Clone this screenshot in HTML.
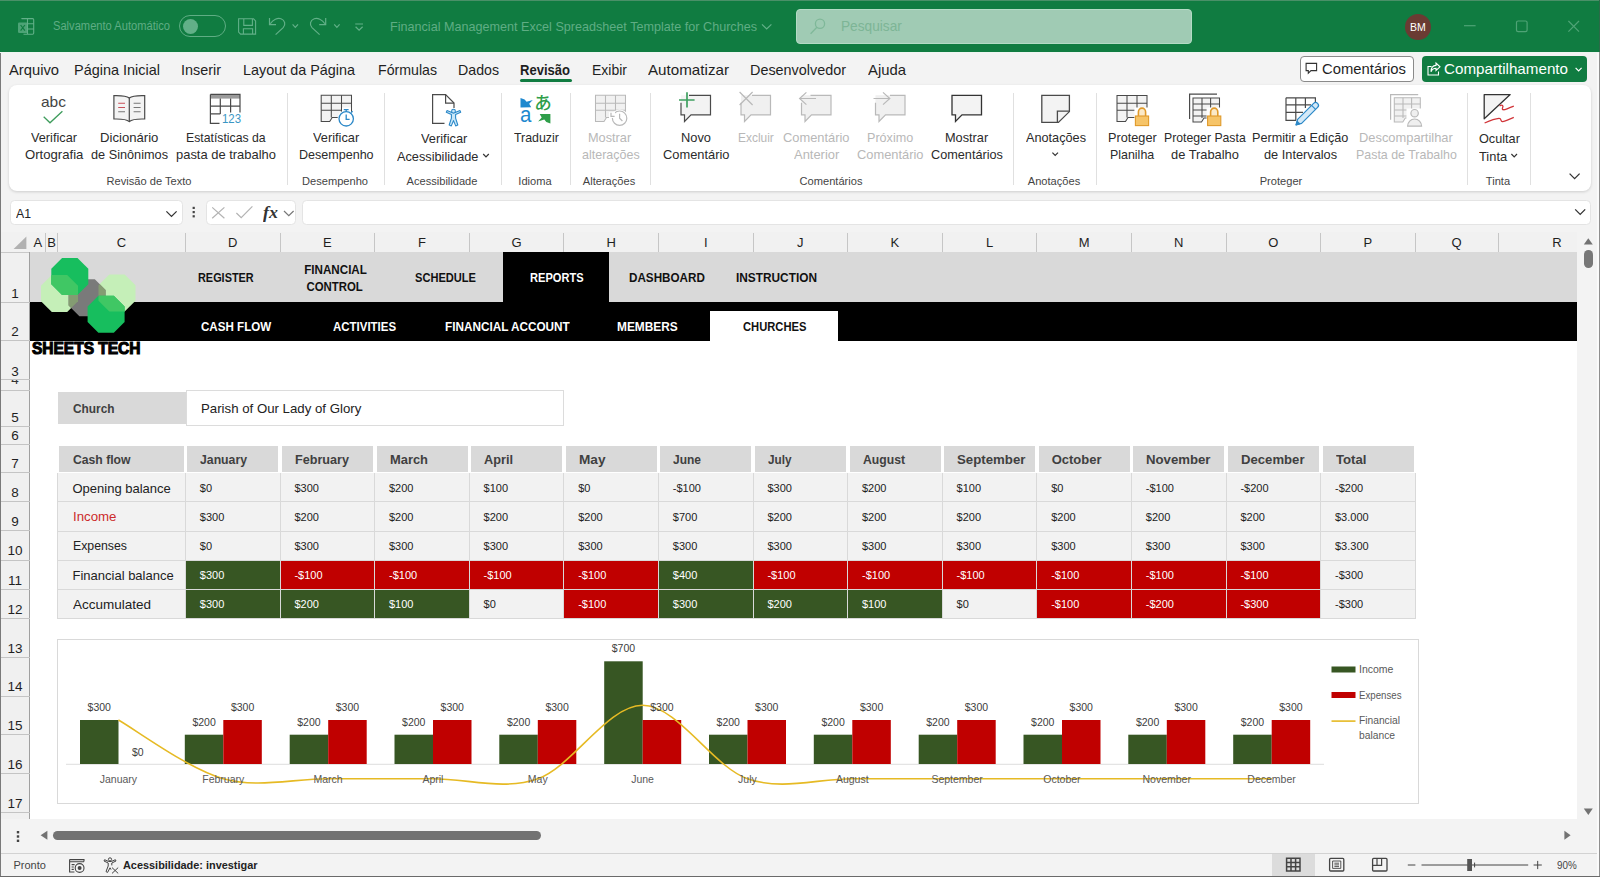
<!DOCTYPE html>
<html lang="pt-BR"><head><meta charset="utf-8"><title>Financial Management Excel Spreadsheet Template for Churches</title>
<style>
html,body{margin:0;padding:0;}
body{width:1600px;height:877px;overflow:hidden;position:relative;background:#f3f3f3;font-family:"Liberation Sans",sans-serif;}
.a{position:absolute;display:block;box-sizing:border-box;}
.t{position:absolute;white-space:nowrap;display:inline-block;}
svg{overflow:visible;}
</style></head><body>
<div class="a" style="left:0px;top:0px;width:1600px;height:51.8px;background:#107c41;"></div>
<div class="a" style="left:0px;top:0px;width:1600px;height:1px;background:#4a9068;"></div>
<span class="t" style="left:53.00px;top:19.24px;font-size:12px;line-height:15px;color:#5fad84;transform:scaleX(0.9280);transform-origin:left center;">Salvamento Automático</span>
<div class="a" style="left:178.7px;top:15.2px;width:47px;height:22px;border:1.2px solid #5fad84;border-radius:11px;"></div>
<div class="a" style="left:182.5px;top:18.7px;width:15px;height:15px;border-radius:7.5px;background:#62b088;"></div>
<span class="t" style="left:390.00px;top:18.50px;font-size:13px;line-height:16px;color:#5fad84;transform:scaleX(0.9698);transform-origin:left center;">Financial Management Excel Spreadsheet Template for Churches</span>
<div class="a" style="left:796px;top:9px;width:396px;height:35px;background:#a0cbb4;border:1.5px solid #b4dbc5;border-radius:4px;"></div>
<span class="t" style="left:841.20px;top:16.78px;font-size:14.5px;line-height:18px;color:#7db596;transform:scaleX(0.9429);transform-origin:left center;">Pesquisar</span>
<div class="a" style="left:1405px;top:14px;width:26px;height:26px;border-radius:13px;background:#6a3b33;"></div>
<span class="t" style="left:1410.12px;top:20.86px;font-size:10.5px;line-height:13px;color:#fff;">BM</span>
<div class="a" style="left:0px;top:52px;width:1600px;height:34px;background:#f3f3f3;"></div>
<span class="t" style="left:9.00px;top:59.80px;font-size:15px;line-height:19px;color:#1f1f1f;transform:scaleX(0.9831);transform-origin:left center;">Arquivo</span>
<span class="t" style="left:74.00px;top:59.80px;font-size:15px;line-height:19px;color:#1f1f1f;transform:scaleX(0.9638);transform-origin:left center;">Página Inicial</span>
<span class="t" style="left:181.00px;top:59.80px;font-size:15px;line-height:19px;color:#1f1f1f;transform:scaleX(0.9595);transform-origin:left center;">Inserir</span>
<span class="t" style="left:243.00px;top:59.80px;font-size:15px;line-height:19px;color:#1f1f1f;transform:scaleX(0.9592);transform-origin:left center;">Layout da Página</span>
<span class="t" style="left:378.00px;top:59.80px;font-size:15px;line-height:19px;color:#1f1f1f;transform:scaleX(0.9438);transform-origin:left center;">Fórmulas</span>
<span class="t" style="left:458.00px;top:59.80px;font-size:15px;line-height:19px;color:#1f1f1f;transform:scaleX(0.9456);transform-origin:left center;">Dados</span>
<span class="t" style="left:520.00px;top:59.80px;font-size:15px;line-height:19px;color:#1f1f1f;font-weight:700;transform:scaleX(0.8689);transform-origin:left center;">Revisão</span>
<span class="t" style="left:592.00px;top:59.80px;font-size:15px;line-height:19px;color:#1f1f1f;transform:scaleX(0.9329);transform-origin:left center;">Exibir</span>
<span class="t" style="left:648.00px;top:59.80px;font-size:15px;line-height:19px;color:#1f1f1f;transform:scaleX(1.0119);transform-origin:left center;">Automatizar</span>
<span class="t" style="left:750.00px;top:59.80px;font-size:15px;line-height:19px;color:#1f1f1f;transform:scaleX(0.9594);transform-origin:left center;">Desenvolvedor</span>
<span class="t" style="left:868.00px;top:59.80px;font-size:15px;line-height:19px;color:#1f1f1f;transform:scaleX(0.9902);transform-origin:left center;">Ajuda</span>
<div class="a" style="left:520px;top:79px;width:52px;height:3px;background:#107c41;border-radius:1.5px;"></div>
<div class="a" style="left:1300px;top:56px;width:114px;height:26px;background:#fff;border:1px solid #8a8a8a;border-radius:4px;"></div>
<span class="t" style="left:1322.00px;top:59.30px;font-size:15px;line-height:19px;color:#1f1f1f;transform:scaleX(0.9877);transform-origin:left center;">Comentários</span>
<div class="a" style="left:1422px;top:56px;width:165px;height:26px;background:#107c41;border-radius:4px;"></div>
<span class="t" style="left:1444.00px;top:59.30px;font-size:15px;line-height:19px;color:#fff;transform:scaleX(1.0117);transform-origin:left center;">Compartilhamento</span>
<div class="a" style="left:9px;top:85.2px;width:1582px;height:105.6px;background:#fff;border-radius:8px;box-shadow:0 1px 3px rgba(0,0,0,0.16);"></div>
<span class="t" style="left:31.00px;top:129.50px;font-size:13px;line-height:16px;color:#2b2b2b;transform:scaleX(0.9794);transform-origin:left center;">Verificar</span>
<span class="t" style="left:25.30px;top:146.70px;font-size:13px;line-height:16px;color:#2b2b2b;transform:scaleX(1.0102);transform-origin:left center;">Ortografia</span>
<span class="t" style="left:100.20px;top:129.50px;font-size:13px;line-height:16px;color:#2b2b2b;transform:scaleX(1.0102);transform-origin:left center;">Dicionário</span>
<span class="t" style="left:91.10px;top:146.70px;font-size:13px;line-height:16px;color:#2b2b2b;transform:scaleX(0.9774);transform-origin:left center;">de Sinônimos</span>
<span class="t" style="left:186.00px;top:129.50px;font-size:13px;line-height:16px;color:#2b2b2b;transform:scaleX(0.9415);transform-origin:left center;">Estatísticas da</span>
<span class="t" style="left:175.80px;top:146.70px;font-size:13px;line-height:16px;color:#2b2b2b;transform:scaleX(0.9943);transform-origin:left center;">pasta de trabalho</span>
<span class="t" style="left:312.90px;top:129.50px;font-size:13px;line-height:16px;color:#2b2b2b;transform:scaleX(0.9836);transform-origin:left center;">Verificar</span>
<span class="t" style="left:299.00px;top:146.70px;font-size:13px;line-height:16px;color:#2b2b2b;transform:scaleX(0.9647);transform-origin:left center;">Desempenho</span>
<span class="t" style="left:420.50px;top:131.30px;font-size:13px;line-height:16px;color:#2b2b2b;transform:scaleX(0.9858);transform-origin:left center;">Verificar</span>
<span class="t" style="left:397.20px;top:148.50px;font-size:13px;line-height:16px;color:#2b2b2b;transform:scaleX(0.9794);transform-origin:left center;">Acessibilidade</span>
<span class="t" style="left:514.20px;top:129.50px;font-size:13px;line-height:16px;color:#2b2b2b;transform:scaleX(0.9512);transform-origin:left center;">Traduzir</span>
<span class="t" style="left:588.40px;top:129.50px;font-size:13px;line-height:16px;color:#b8b8b8;transform:scaleX(0.9804);transform-origin:left center;">Mostrar</span>
<span class="t" style="left:582.00px;top:146.70px;font-size:13px;line-height:16px;color:#b8b8b8;transform:scaleX(0.9619);transform-origin:left center;">alterações</span>
<span class="t" style="left:680.90px;top:129.50px;font-size:13px;line-height:16px;color:#2b2b2b;transform:scaleX(0.9882);transform-origin:left center;">Novo</span>
<span class="t" style="left:662.70px;top:146.70px;font-size:13px;line-height:16px;color:#2b2b2b;transform:scaleX(0.9895);transform-origin:left center;">Comentário</span>
<span class="t" style="left:737.60px;top:129.50px;font-size:13px;line-height:16px;color:#b8b8b8;transform:scaleX(0.9176);transform-origin:left center;">Excluir</span>
<span class="t" style="left:782.80px;top:129.50px;font-size:13px;line-height:16px;color:#b8b8b8;transform:scaleX(0.9895);transform-origin:left center;">Comentário</span>
<span class="t" style="left:793.60px;top:146.70px;font-size:13px;line-height:16px;color:#b8b8b8;transform:scaleX(0.9949);transform-origin:left center;">Anterior</span>
<span class="t" style="left:866.90px;top:129.50px;font-size:13px;line-height:16px;color:#b8b8b8;transform:scaleX(0.9688);transform-origin:left center;">Próximo</span>
<span class="t" style="left:856.70px;top:146.70px;font-size:13px;line-height:16px;color:#b8b8b8;transform:scaleX(0.9895);transform-origin:left center;">Comentário</span>
<span class="t" style="left:944.80px;top:129.50px;font-size:13px;line-height:16px;color:#2b2b2b;transform:scaleX(0.9804);transform-origin:left center;">Mostrar</span>
<span class="t" style="left:931.00px;top:146.70px;font-size:13px;line-height:16px;color:#2b2b2b;transform:scaleX(0.9755);transform-origin:left center;">Comentários</span>
<span class="t" style="left:1025.50px;top:129.50px;font-size:13px;line-height:16px;color:#2b2b2b;transform:scaleX(0.9766);transform-origin:left center;">Anotações</span>
<span class="t" style="left:1108.00px;top:129.50px;font-size:13px;line-height:16px;color:#2b2b2b;transform:scaleX(0.9764);transform-origin:left center;">Proteger</span>
<span class="t" style="left:1109.90px;top:146.70px;font-size:13px;line-height:16px;color:#2b2b2b;transform:scaleX(0.9554);transform-origin:left center;">Planilha</span>
<span class="t" style="left:1163.90px;top:129.50px;font-size:13px;line-height:16px;color:#2b2b2b;transform:scaleX(0.9421);transform-origin:left center;">Proteger Pasta</span>
<span class="t" style="left:1170.60px;top:146.70px;font-size:13px;line-height:16px;color:#2b2b2b;transform:scaleX(0.9888);transform-origin:left center;">de Trabalho</span>
<span class="t" style="left:1252.40px;top:129.50px;font-size:13px;line-height:16px;color:#2b2b2b;transform:scaleX(0.9729);transform-origin:left center;">Permitir a Edição</span>
<span class="t" style="left:1263.60px;top:146.70px;font-size:13px;line-height:16px;color:#2b2b2b;transform:scaleX(0.9820);transform-origin:left center;">de Intervalos</span>
<span class="t" style="left:1358.80px;top:129.50px;font-size:13px;line-height:16px;color:#b8b8b8;transform:scaleX(0.9910);transform-origin:left center;">Descompartilhar</span>
<span class="t" style="left:1355.50px;top:146.70px;font-size:13px;line-height:16px;color:#b8b8b8;transform:scaleX(0.9552);transform-origin:left center;">Pasta de Trabalho</span>
<span class="t" style="left:1478.80px;top:131.30px;font-size:13px;line-height:16px;color:#2b2b2b;transform:scaleX(0.9760);transform-origin:left center;">Ocultar</span>
<span class="t" style="left:1478.80px;top:148.50px;font-size:13px;line-height:16px;color:#2b2b2b;transform:scaleX(0.9887);transform-origin:left center;">Tinta</span>
<div class="a" style="left:286.6px;top:93px;width:1px;height:92px;background:#e0e0e0;"></div>
<div class="a" style="left:384.4px;top:93px;width:1px;height:92px;background:#e0e0e0;"></div>
<div class="a" style="left:501px;top:93px;width:1px;height:92px;background:#e0e0e0;"></div>
<div class="a" style="left:569.6px;top:93px;width:1px;height:92px;background:#e0e0e0;"></div>
<div class="a" style="left:650.4px;top:93px;width:1px;height:92px;background:#e0e0e0;"></div>
<div class="a" style="left:1013.2px;top:93px;width:1px;height:92px;background:#e0e0e0;"></div>
<div class="a" style="left:1096.1px;top:93px;width:1px;height:92px;background:#e0e0e0;"></div>
<div class="a" style="left:1466.7px;top:93px;width:1px;height:92px;background:#e0e0e0;"></div>
<div class="a" style="left:1530.2px;top:93px;width:1px;height:92px;background:#e0e0e0;"></div>
<span class="t" style="left:106.55px;top:173.75px;font-size:11.1px;line-height:14px;color:#444;">Revisão de Texto</span>
<span class="t" style="left:302.00px;top:173.75px;font-size:11.1px;line-height:14px;color:#444;">Desempenho</span>
<span class="t" style="left:406.54px;top:173.75px;font-size:11.1px;line-height:14px;color:#444;">Acessibilidade</span>
<span class="t" style="left:518.34px;top:173.75px;font-size:11.1px;line-height:14px;color:#444;">Idioma</span>
<span class="t" style="left:582.79px;top:173.75px;font-size:11.1px;line-height:14px;color:#444;">Alterações</span>
<span class="t" style="left:799.55px;top:173.75px;font-size:11.1px;line-height:14px;color:#444;">Comentários</span>
<span class="t" style="left:1027.78px;top:173.75px;font-size:11.1px;line-height:14px;color:#444;">Anotações</span>
<span class="t" style="left:1259.72px;top:173.75px;font-size:11.1px;line-height:14px;color:#444;">Proteger</span>
<span class="t" style="left:1485.87px;top:173.75px;font-size:11.1px;line-height:14px;color:#444;">Tinta</span>
<div class="a" style="left:9.8px;top:199.8px;width:172.8px;height:24.8px;background:#fff;border:1px solid #e4e4e4;border-radius:4.5px;"></div>
<span class="t" style="left:16.00px;top:204.52px;font-size:13.5px;line-height:17px;color:#222;transform:scaleX(0.9082);transform-origin:left center;">A1</span>
<div class="a" style="left:206px;top:199.8px;width:90.4px;height:24.8px;background:#fff;border:1px solid #e4e4e4;border-radius:4.5px;"></div>
<div class="a" style="left:301.6px;top:199.8px;width:1289.6px;height:24.8px;background:#fff;border:1px solid #e4e4e4;border-radius:4.5px;"></div>
<span class="t" style="left:263.00px;top:200.94px;font-size:17.5px;line-height:22px;color:#333;transform:scaleX(1.0289);transform-origin:left center;font-family:'Liberation Serif',serif;font-style:italic;font-weight:700;">fx</span>
<svg class="a" style="left:0px;top:0px;" width="1600" height="877" viewBox="0 0 1600 877"><path d="M166.4,211.4 L171.5,216.4 L176.6,211.4" fill="none" stroke="#333" stroke-width="1.3"/><rect x="192.6" y="206.8" width="2.2" height="2.2" fill="#444"/><rect x="192.6" y="211" width="2.2" height="2.2" fill="#444"/><rect x="192.6" y="215.2" width="2.2" height="2.2" fill="#444"/><path d="M212.2,207.4 L224.4,218.2 M224.4,207.4 L212.2,218.2 M236.4,213 L241.2,217.6 L252.4,206.4" fill="none" stroke="#b3b3b3" stroke-width="1.2"/><path d="M284,211 L288.8,215.6 L293.6,211" fill="none" stroke="#777" stroke-width="1.2"/><path d="M1575.2,209.4 L1580.2,214.4 L1585.2,209.4" fill="none" stroke="#333" stroke-width="1.3"/></svg>
<div class="a" style="left:0px;top:232px;width:1577.3px;height:587px;background:#fff;"></div>
<div class="a" style="left:0px;top:232px;width:1577px;height:20px;background:#f1f1f1;"></div>
<div class="a" style="left:0px;top:252px;width:30px;height:567px;background:#f0f0f0;"></div>
<span class="t" style="left:33.46px;top:234.70px;font-size:13px;line-height:16px;color:#1f1f1f;">A</span>
<div class="a" style="left:45.1px;top:232.5px;width:1px;height:19.5px;background:#c6c6c6;"></div>
<span class="t" style="left:47.26px;top:234.70px;font-size:13px;line-height:16px;color:#1f1f1f;">B</span>
<div class="a" style="left:57.1px;top:232.5px;width:1px;height:19.5px;background:#c6c6c6;"></div>
<span class="t" style="left:116.80px;top:234.70px;font-size:13px;line-height:16px;color:#1f1f1f;">C</span>
<div class="a" style="left:184.9px;top:232.5px;width:1px;height:19.5px;background:#c6c6c6;"></div>
<span class="t" style="left:228.00px;top:234.70px;font-size:13px;line-height:16px;color:#1f1f1f;">D</span>
<div class="a" style="left:279.5px;top:232.5px;width:1px;height:19.5px;background:#c6c6c6;"></div>
<span class="t" style="left:322.96px;top:234.70px;font-size:13px;line-height:16px;color:#1f1f1f;">E</span>
<div class="a" style="left:374.1px;top:232.5px;width:1px;height:19.5px;background:#c6c6c6;"></div>
<span class="t" style="left:417.92px;top:234.70px;font-size:13px;line-height:16px;color:#1f1f1f;">F</span>
<div class="a" style="left:468.7px;top:232.5px;width:1px;height:19.5px;background:#c6c6c6;"></div>
<span class="t" style="left:511.44px;top:234.70px;font-size:13px;line-height:16px;color:#1f1f1f;">G</span>
<div class="a" style="left:563.3px;top:232.5px;width:1px;height:19.5px;background:#c6c6c6;"></div>
<span class="t" style="left:606.40px;top:234.70px;font-size:13px;line-height:16px;color:#1f1f1f;">H</span>
<div class="a" style="left:657.9px;top:232.5px;width:1px;height:19.5px;background:#c6c6c6;"></div>
<span class="t" style="left:703.89px;top:234.70px;font-size:13px;line-height:16px;color:#1f1f1f;">I</span>
<div class="a" style="left:752.5px;top:232.5px;width:1px;height:19.5px;background:#c6c6c6;"></div>
<span class="t" style="left:797.05px;top:234.70px;font-size:13px;line-height:16px;color:#1f1f1f;">J</span>
<div class="a" style="left:847.1px;top:232.5px;width:1px;height:19.5px;background:#c6c6c6;"></div>
<span class="t" style="left:890.56px;top:234.70px;font-size:13px;line-height:16px;color:#1f1f1f;">K</span>
<div class="a" style="left:941.7px;top:232.5px;width:1px;height:19.5px;background:#c6c6c6;"></div>
<span class="t" style="left:985.88px;top:234.70px;font-size:13px;line-height:16px;color:#1f1f1f;">L</span>
<div class="a" style="left:1036.3px;top:232.5px;width:1px;height:19.5px;background:#c6c6c6;"></div>
<span class="t" style="left:1078.68px;top:234.70px;font-size:13px;line-height:16px;color:#1f1f1f;">M</span>
<div class="a" style="left:1130.9px;top:232.5px;width:1px;height:19.5px;background:#c6c6c6;"></div>
<span class="t" style="left:1174.00px;top:234.70px;font-size:13px;line-height:16px;color:#1f1f1f;">N</span>
<div class="a" style="left:1225.5px;top:232.5px;width:1px;height:19.5px;background:#c6c6c6;"></div>
<span class="t" style="left:1268.24px;top:234.70px;font-size:13px;line-height:16px;color:#1f1f1f;">O</span>
<div class="a" style="left:1320.1px;top:232.5px;width:1px;height:19.5px;background:#c6c6c6;"></div>
<span class="t" style="left:1363.56px;top:234.70px;font-size:13px;line-height:16px;color:#1f1f1f;">P</span>
<div class="a" style="left:1414.7px;top:232.5px;width:1px;height:19.5px;background:#c6c6c6;"></div>
<span class="t" style="left:1451.54px;top:234.70px;font-size:13px;line-height:16px;color:#1f1f1f;">Q</span>
<div class="a" style="left:1497.5px;top:232.5px;width:1px;height:19.5px;background:#c6c6c6;"></div>
<span class="t" style="left:1552.30px;top:234.70px;font-size:13px;line-height:16px;color:#1f1f1f;">R</span>
<div class="a" style="left:0px;top:251.5px;width:29px;height:1px;background:#c8c8c8;"></div>
<div class="a" style="left:29px;top:251.5px;width:1548px;height:1px;background:#9e9e9e;"></div>
<svg class="a" style="left:0px;top:0px;" width="40" height="260" viewBox="0 0 40 260"><polygon points="13.6,249 26.4,249 26.4,236.4" fill="#b1b1b1"/></svg>
<div class="a" style="left:29px;top:252px;width:1px;height:567px;background:#a0a0a0;"></div>
<div class="a" style="left:0px;top:301.79999999999995px;width:30px;height:1px;background:#c4c4c4;"></div>
<span class="t" style="left:11.24px;top:284.62px;font-size:13.5px;line-height:17px;color:#1f1f1f;">1</span>
<div class="a" style="left:0px;top:340.4px;width:30px;height:1px;background:#c4c4c4;"></div>
<span class="t" style="left:11.24px;top:323.22px;font-size:13.5px;line-height:17px;color:#1f1f1f;">2</span>
<div class="a" style="left:0px;top:379.4px;width:30px;height:1px;background:#c4c4c4;"></div>
<span class="t" style="left:11.24px;top:363.22px;font-size:13.5px;line-height:17px;color:#1f1f1f;">3</span>
<div class="a" style="left:0px;top:389.7px;width:30px;height:1px;background:#c4c4c4;"></div>
<div class="a" style="left:0;top:380.4px;width:29px;height:9.4px;overflow:hidden;"><span class="t" style="left:11.2px;top:-9.3px;font-size:13.5px;line-height:17px;color:#333;">4</span></div>
<div class="a" style="left:0px;top:425.7px;width:30px;height:1px;background:#c4c4c4;"></div>
<span class="t" style="left:11.24px;top:408.52px;font-size:13.5px;line-height:17px;color:#1f1f1f;">5</span>
<div class="a" style="left:0px;top:444.0px;width:30px;height:1px;background:#c4c4c4;"></div>
<span class="t" style="left:11.24px;top:426.82px;font-size:13.5px;line-height:17px;color:#1f1f1f;">6</span>
<div class="a" style="left:0px;top:472.0px;width:30px;height:1px;background:#c4c4c4;"></div>
<span class="t" style="left:11.24px;top:454.82px;font-size:13.5px;line-height:17px;color:#1f1f1f;">7</span>
<div class="a" style="left:0px;top:501.2px;width:30px;height:1px;background:#c4c4c4;"></div>
<span class="t" style="left:11.24px;top:484.02px;font-size:13.5px;line-height:17px;color:#1f1f1f;">8</span>
<div class="a" style="left:0px;top:530.4px;width:30px;height:1px;background:#c4c4c4;"></div>
<span class="t" style="left:11.24px;top:513.22px;font-size:13.5px;line-height:17px;color:#1f1f1f;">9</span>
<div class="a" style="left:0px;top:559.6px;width:30px;height:1px;background:#c4c4c4;"></div>
<span class="t" style="left:7.48px;top:542.42px;font-size:13.5px;line-height:17px;color:#1f1f1f;">10</span>
<div class="a" style="left:0px;top:588.8px;width:30px;height:1px;background:#c4c4c4;"></div>
<span class="t" style="left:7.99px;top:571.62px;font-size:13.5px;line-height:17px;color:#1f1f1f;">11</span>
<div class="a" style="left:0px;top:618.0px;width:30px;height:1px;background:#c4c4c4;"></div>
<span class="t" style="left:7.48px;top:600.82px;font-size:13.5px;line-height:17px;color:#1f1f1f;">12</span>
<div class="a" style="left:0px;top:656.8px;width:30px;height:1px;background:#c4c4c4;"></div>
<span class="t" style="left:7.48px;top:639.62px;font-size:13.5px;line-height:17px;color:#1f1f1f;">13</span>
<div class="a" style="left:0px;top:695.5px;width:30px;height:1px;background:#c4c4c4;"></div>
<span class="t" style="left:7.48px;top:678.32px;font-size:13.5px;line-height:17px;color:#1f1f1f;">14</span>
<div class="a" style="left:0px;top:734.3px;width:30px;height:1px;background:#c4c4c4;"></div>
<span class="t" style="left:7.48px;top:717.12px;font-size:13.5px;line-height:17px;color:#1f1f1f;">15</span>
<div class="a" style="left:0px;top:773.0px;width:30px;height:1px;background:#c4c4c4;"></div>
<span class="t" style="left:7.48px;top:755.82px;font-size:13.5px;line-height:17px;color:#1f1f1f;">16</span>
<div class="a" style="left:0px;top:811.8px;width:30px;height:1px;background:#c4c4c4;"></div>
<span class="t" style="left:7.48px;top:794.62px;font-size:13.5px;line-height:17px;color:#1f1f1f;">17</span>
<div class="a" style="left:30px;top:252.4px;width:1547.3px;height:49.8px;background:#d9d9d9;"></div>
<div class="a" style="left:503.3px;top:252.4px;width:105.8px;height:49.8px;background:#000;"></div>
<div class="a" style="left:30px;top:302.1px;width:1547.3px;height:39.2px;background:#000;"></div>
<div class="a" style="left:710.3px;top:310.8px;width:127.7px;height:30.5px;background:#fff;"></div>
<span class="t" style="left:197.80px;top:270.33px;font-size:13.2px;line-height:16px;color:#111;font-weight:700;transform:scaleX(0.8261);transform-origin:left center;">REGISTER</span>
<span class="t" style="left:299.67px;top:261.63px;font-size:13.2px;line-height:16px;color:#111;font-weight:700;transform:scaleX(0.8823);transform-origin:center center;">FINANCIAL</span>
<span class="t" style="left:302.40px;top:278.63px;font-size:13.2px;line-height:16px;color:#111;font-weight:700;transform:scaleX(0.8635);transform-origin:center center;">CONTROL</span>
<span class="t" style="left:414.80px;top:270.33px;font-size:13.2px;line-height:16px;color:#111;font-weight:700;transform:scaleX(0.8408);transform-origin:left center;">SCHEDULE</span>
<span class="t" style="left:529.70px;top:270.33px;font-size:13.2px;line-height:16px;color:#fff;font-weight:700;transform:scaleX(0.8408);transform-origin:left center;">REPORTS</span>
<span class="t" style="left:628.90px;top:270.33px;font-size:13.2px;line-height:16px;color:#111;font-weight:700;transform:scaleX(0.8855);transform-origin:left center;">DASHBOARD</span>
<span class="t" style="left:736.30px;top:270.33px;font-size:13.2px;line-height:16px;color:#111;font-weight:700;transform:scaleX(0.8988);transform-origin:left center;">INSTRUCTION</span>
<span class="t" style="left:200.80px;top:319.23px;font-size:13.2px;line-height:16px;color:#fff;font-weight:700;transform:scaleX(0.8790);transform-origin:left center;">CASH FLOW</span>
<span class="t" style="left:332.60px;top:319.23px;font-size:13.2px;line-height:16px;color:#fff;font-weight:700;transform:scaleX(0.8698);transform-origin:left center;">ACTIVITIES</span>
<span class="t" style="left:444.50px;top:319.23px;font-size:13.2px;line-height:16px;color:#fff;font-weight:700;transform:scaleX(0.8918);transform-origin:left center;">FINANCIAL ACCOUNT</span>
<span class="t" style="left:617.00px;top:319.23px;font-size:13.2px;line-height:16px;color:#fff;font-weight:700;transform:scaleX(0.9020);transform-origin:left center;">MEMBERS</span>
<span class="t" style="left:742.60px;top:319.23px;font-size:13.2px;line-height:16px;color:#111;font-weight:700;transform:scaleX(0.8483);transform-origin:left center;">CHURCHES</span>
<span class="t" style="left:31.50px;top:339.26px;font-size:16px;line-height:20px;color:#000;font-weight:700;transform:scaleX(0.9686);transform-origin:left center;-webkit-text-stroke:1.1px #000;">SHEETS TECH</span>
<svg class="a" style="left:0px;top:0px;" width="200" height="400" viewBox="0 0 200 400"><defs><clipPath id="cT"><polygon points="88.3,284.2 77.5,295.0 62.1,295.0 51.3,284.2 51.3,268.8 62.1,258.0 77.5,258.0 88.3,268.8"/></clipPath><clipPath id="cB"><polygon points="124.6,322.0 113.8,332.8 98.4,332.8 87.6,322.0 87.6,306.6 98.4,295.8 113.8,295.8 124.6,306.6"/></clipPath><clipPath id="cG"><polygon points="105.6,305.5 94.8,316.3 79.4,316.3 68.6,305.5 68.6,290.1 79.4,279.3 94.8,279.3 105.6,290.1"/></clipPath></defs><polygon points="78.0,301.2 67.2,312.0 51.8,312.0 41.0,301.2 41.0,285.8 51.8,275.0 67.2,275.0 78.0,285.8" fill="#c5efb8"/><polygon points="135.5,300.7 124.7,311.5 109.3,311.5 98.5,300.7 98.5,285.3 109.3,274.5 124.7,274.5 135.5,285.3" fill="#c5efb8"/><polygon points="105.6,305.5 94.8,316.3 79.4,316.3 68.6,305.5 68.6,290.1 79.4,279.3 94.8,279.3 105.6,290.1" fill="#7a7a7a"/><polygon points="78.0,301.2 67.2,312.0 51.8,312.0 41.0,301.2 41.0,285.8 51.8,275.0 67.2,275.0 78.0,285.8" fill="#849c72" clip-path="url(#cG)"/><polygon points="135.5,300.7 124.7,311.5 109.3,311.5 98.5,300.7 98.5,285.3 109.3,274.5 124.7,274.5 135.5,285.3" fill="#849c72" clip-path="url(#cG)"/><polygon points="88.3,284.2 77.5,295.0 62.1,295.0 51.3,284.2 51.3,268.8 62.1,258.0 77.5,258.0 88.3,268.8" fill="#17be5e"/><polygon points="124.6,322.0 113.8,332.8 98.4,332.8 87.6,322.0 87.6,306.6 98.4,295.8 113.8,295.8 124.6,306.6" fill="#17be5e"/><polygon points="78.0,301.2 67.2,312.0 51.8,312.0 41.0,301.2 41.0,285.8 51.8,275.0 67.2,275.0 78.0,285.8" fill="#40c764" clip-path="url(#cT)"/><polygon points="135.5,300.7 124.7,311.5 109.3,311.5 98.5,300.7 98.5,285.3 109.3,274.5 124.7,274.5 135.5,285.3" fill="#40c764" clip-path="url(#cB)"/></svg>
<div class="a" style="left:58px;top:392.2px;width:127.5px;height:32px;background:#d9d9d9;"></div>
<div class="a" style="left:185.5px;top:390.4px;width:378.6px;height:35.6px;background:#fff;border:1px solid #dcdcdc;"></div>
<span class="t" style="left:72.50px;top:401.00px;font-size:13px;line-height:16px;color:#404040;font-weight:700;transform:scaleX(0.9121);transform-origin:left center;">Church</span>
<span class="t" style="left:201.00px;top:401.00px;font-size:13px;line-height:16px;color:#222;transform:scaleX(1.0177);transform-origin:left center;">Parish of Our Lady of Glory</span>
<div class="a" style="left:58.7px;top:446.1px;width:125.10000000000001px;height:26.4px;background:#d9d9d9;"></div>
<span class="t" style="left:72.50px;top:451.70px;font-size:13px;line-height:16px;color:#404040;font-weight:700;transform:scaleX(0.9364);transform-origin:left center;">Cash flow</span>
<div class="a" style="left:187.4px;top:446.1px;width:91.1px;height:26.4px;background:#d9d9d9;"></div>
<span class="t" style="left:200.30px;top:451.70px;font-size:13px;line-height:16px;color:#404040;font-weight:700;transform:scaleX(0.9424);transform-origin:left center;">January</span>
<div class="a" style="left:282px;top:446.1px;width:91.10000000000002px;height:26.4px;background:#d9d9d9;"></div>
<span class="t" style="left:294.90px;top:451.70px;font-size:13px;line-height:16px;color:#404040;font-weight:700;transform:scaleX(0.9705);transform-origin:left center;">February</span>
<div class="a" style="left:376.6px;top:446.1px;width:91.09999999999997px;height:26.4px;background:#d9d9d9;"></div>
<span class="t" style="left:389.50px;top:451.70px;font-size:13px;line-height:16px;color:#404040;font-weight:700;transform:scaleX(0.9922);transform-origin:left center;">March</span>
<div class="a" style="left:471.2px;top:446.1px;width:91.09999999999997px;height:26.4px;background:#d9d9d9;"></div>
<span class="t" style="left:484.10px;top:451.70px;font-size:13px;line-height:16px;color:#404040;font-weight:700;transform:scaleX(0.9789);transform-origin:left center;">April</span>
<div class="a" style="left:565.8px;top:446.1px;width:91.10000000000002px;height:26.4px;background:#d9d9d9;"></div>
<span class="t" style="left:578.70px;top:451.70px;font-size:13px;line-height:16px;color:#404040;font-weight:700;transform:scaleX(1.0476);transform-origin:left center;">May</span>
<div class="a" style="left:660.4px;top:446.1px;width:91.10000000000002px;height:26.4px;background:#d9d9d9;"></div>
<span class="t" style="left:673.30px;top:451.70px;font-size:13px;line-height:16px;color:#404040;font-weight:700;transform:scaleX(0.9228);transform-origin:left center;">June</span>
<div class="a" style="left:755px;top:446.1px;width:91.10000000000002px;height:26.4px;background:#d9d9d9;"></div>
<span class="t" style="left:767.90px;top:451.70px;font-size:13px;line-height:16px;color:#404040;font-weight:700;transform:scaleX(0.9033);transform-origin:left center;">July</span>
<div class="a" style="left:849.6px;top:446.1px;width:91.10000000000002px;height:26.4px;background:#d9d9d9;"></div>
<span class="t" style="left:862.50px;top:451.70px;font-size:13px;line-height:16px;color:#404040;font-weight:700;transform:scaleX(0.9379);transform-origin:left center;">August</span>
<div class="a" style="left:944.2px;top:446.1px;width:91.09999999999991px;height:26.4px;background:#d9d9d9;"></div>
<span class="t" style="left:957.10px;top:451.70px;font-size:13px;line-height:16px;color:#404040;font-weight:700;transform:scaleX(1.0193);transform-origin:left center;">September</span>
<div class="a" style="left:1038.8px;top:446.1px;width:91.10000000000014px;height:26.4px;background:#d9d9d9;"></div>
<span class="t" style="left:1051.70px;top:451.70px;font-size:13px;line-height:16px;color:#404040;font-weight:700;">October</span>
<div class="a" style="left:1133.4px;top:446.1px;width:91.09999999999991px;height:26.4px;background:#d9d9d9;"></div>
<span class="t" style="left:1146.30px;top:451.70px;font-size:13px;line-height:16px;color:#404040;font-weight:700;transform:scaleX(1.0145);transform-origin:left center;">November</span>
<div class="a" style="left:1228px;top:446.1px;width:91.09999999999991px;height:26.4px;background:#d9d9d9;"></div>
<span class="t" style="left:1240.90px;top:451.70px;font-size:13px;line-height:16px;color:#404040;font-weight:700;transform:scaleX(1.0099);transform-origin:left center;">December</span>
<div class="a" style="left:1322.6px;top:446.1px;width:91.10000000000014px;height:26.4px;background:#d9d9d9;"></div>
<span class="t" style="left:1335.50px;top:451.70px;font-size:13px;line-height:16px;color:#404040;font-weight:700;transform:scaleX(1.0135);transform-origin:left center;">Total</span>
<div class="a" style="left:57.6px;top:473.2px;width:1358px;height:145.4px;background:#f2f2f2;"></div>
<span class="t" style="left:72.50px;top:480.50px;font-size:13px;line-height:16px;color:#222;">Opening balance</span>
<span class="t" style="left:199.80px;top:481.09px;font-size:11px;line-height:14px;color:#222;">$0</span>
<span class="t" style="left:294.40px;top:481.09px;font-size:11px;line-height:14px;color:#222;">$300</span>
<span class="t" style="left:389.00px;top:481.09px;font-size:11px;line-height:14px;color:#222;">$200</span>
<span class="t" style="left:483.60px;top:481.09px;font-size:11px;line-height:14px;color:#222;">$100</span>
<span class="t" style="left:578.20px;top:481.09px;font-size:11px;line-height:14px;color:#222;">$0</span>
<span class="t" style="left:672.80px;top:481.09px;font-size:11px;line-height:14px;color:#222;">-$100</span>
<span class="t" style="left:767.40px;top:481.09px;font-size:11px;line-height:14px;color:#222;">$300</span>
<span class="t" style="left:862.00px;top:481.09px;font-size:11px;line-height:14px;color:#222;">$200</span>
<span class="t" style="left:956.60px;top:481.09px;font-size:11px;line-height:14px;color:#222;">$100</span>
<span class="t" style="left:1051.20px;top:481.09px;font-size:11px;line-height:14px;color:#222;">$0</span>
<span class="t" style="left:1145.80px;top:481.09px;font-size:11px;line-height:14px;color:#222;">-$100</span>
<span class="t" style="left:1240.40px;top:481.09px;font-size:11px;line-height:14px;color:#222;">-$200</span>
<span class="t" style="left:1335.00px;top:481.09px;font-size:11px;line-height:14px;color:#222;">-$200</span>
<span class="t" style="left:72.50px;top:509.10px;font-size:13px;line-height:16px;color:#cc2b2b;transform:scaleX(1.0202);transform-origin:left center;">Income</span>
<span class="t" style="left:199.80px;top:509.69px;font-size:11px;line-height:14px;color:#222;">$300</span>
<span class="t" style="left:294.40px;top:509.69px;font-size:11px;line-height:14px;color:#222;">$200</span>
<span class="t" style="left:389.00px;top:509.69px;font-size:11px;line-height:14px;color:#222;">$200</span>
<span class="t" style="left:483.60px;top:509.69px;font-size:11px;line-height:14px;color:#222;">$200</span>
<span class="t" style="left:578.20px;top:509.69px;font-size:11px;line-height:14px;color:#222;">$200</span>
<span class="t" style="left:672.80px;top:509.69px;font-size:11px;line-height:14px;color:#222;">$700</span>
<span class="t" style="left:767.40px;top:509.69px;font-size:11px;line-height:14px;color:#222;">$200</span>
<span class="t" style="left:862.00px;top:509.69px;font-size:11px;line-height:14px;color:#222;">$200</span>
<span class="t" style="left:956.60px;top:509.69px;font-size:11px;line-height:14px;color:#222;">$200</span>
<span class="t" style="left:1051.20px;top:509.69px;font-size:11px;line-height:14px;color:#222;">$200</span>
<span class="t" style="left:1145.80px;top:509.69px;font-size:11px;line-height:14px;color:#222;">$200</span>
<span class="t" style="left:1240.40px;top:509.69px;font-size:11px;line-height:14px;color:#222;">$200</span>
<span class="t" style="left:1335.00px;top:509.69px;font-size:11px;line-height:14px;color:#222;">$3.000</span>
<span class="t" style="left:72.50px;top:538.30px;font-size:13px;line-height:16px;color:#222;transform:scaleX(0.9458);transform-origin:left center;">Expenses</span>
<span class="t" style="left:199.80px;top:538.89px;font-size:11px;line-height:14px;color:#222;">$0</span>
<span class="t" style="left:294.40px;top:538.89px;font-size:11px;line-height:14px;color:#222;">$300</span>
<span class="t" style="left:389.00px;top:538.89px;font-size:11px;line-height:14px;color:#222;">$300</span>
<span class="t" style="left:483.60px;top:538.89px;font-size:11px;line-height:14px;color:#222;">$300</span>
<span class="t" style="left:578.20px;top:538.89px;font-size:11px;line-height:14px;color:#222;">$300</span>
<span class="t" style="left:672.80px;top:538.89px;font-size:11px;line-height:14px;color:#222;">$300</span>
<span class="t" style="left:767.40px;top:538.89px;font-size:11px;line-height:14px;color:#222;">$300</span>
<span class="t" style="left:862.00px;top:538.89px;font-size:11px;line-height:14px;color:#222;">$300</span>
<span class="t" style="left:956.60px;top:538.89px;font-size:11px;line-height:14px;color:#222;">$300</span>
<span class="t" style="left:1051.20px;top:538.89px;font-size:11px;line-height:14px;color:#222;">$300</span>
<span class="t" style="left:1145.80px;top:538.89px;font-size:11px;line-height:14px;color:#222;">$300</span>
<span class="t" style="left:1240.40px;top:538.89px;font-size:11px;line-height:14px;color:#222;">$300</span>
<span class="t" style="left:1335.00px;top:538.89px;font-size:11px;line-height:14px;color:#222;">$3.300</span>
<span class="t" style="left:72.50px;top:567.50px;font-size:13px;line-height:16px;color:#222;">Financial balance</span>
<div class="a" style="left:185.4px;top:560.2px;width:94.6px;height:29.199999999999932px;background:#375623;"></div>
<span class="t" style="left:199.80px;top:568.09px;font-size:11px;line-height:14px;color:#fff;">$300</span>
<div class="a" style="left:280px;top:560.2px;width:94.60000000000002px;height:29.199999999999932px;background:#c00000;"></div>
<span class="t" style="left:294.40px;top:568.09px;font-size:11px;line-height:14px;color:#fff;">-$100</span>
<div class="a" style="left:374.6px;top:560.2px;width:94.59999999999997px;height:29.199999999999932px;background:#c00000;"></div>
<span class="t" style="left:389.00px;top:568.09px;font-size:11px;line-height:14px;color:#fff;">-$100</span>
<div class="a" style="left:469.2px;top:560.2px;width:94.59999999999997px;height:29.199999999999932px;background:#c00000;"></div>
<span class="t" style="left:483.60px;top:568.09px;font-size:11px;line-height:14px;color:#fff;">-$100</span>
<div class="a" style="left:563.8px;top:560.2px;width:94.60000000000002px;height:29.199999999999932px;background:#c00000;"></div>
<span class="t" style="left:578.20px;top:568.09px;font-size:11px;line-height:14px;color:#fff;">-$100</span>
<div class="a" style="left:658.4px;top:560.2px;width:94.60000000000002px;height:29.199999999999932px;background:#375623;"></div>
<span class="t" style="left:672.80px;top:568.09px;font-size:11px;line-height:14px;color:#fff;">$400</span>
<div class="a" style="left:753px;top:560.2px;width:94.60000000000002px;height:29.199999999999932px;background:#c00000;"></div>
<span class="t" style="left:767.40px;top:568.09px;font-size:11px;line-height:14px;color:#fff;">-$100</span>
<div class="a" style="left:847.6px;top:560.2px;width:94.60000000000002px;height:29.199999999999932px;background:#c00000;"></div>
<span class="t" style="left:862.00px;top:568.09px;font-size:11px;line-height:14px;color:#fff;">-$100</span>
<div class="a" style="left:942.2px;top:560.2px;width:94.59999999999991px;height:29.199999999999932px;background:#c00000;"></div>
<span class="t" style="left:956.60px;top:568.09px;font-size:11px;line-height:14px;color:#fff;">-$100</span>
<div class="a" style="left:1036.8px;top:560.2px;width:94.60000000000014px;height:29.199999999999932px;background:#c00000;"></div>
<span class="t" style="left:1051.20px;top:568.09px;font-size:11px;line-height:14px;color:#fff;">-$100</span>
<div class="a" style="left:1131.4px;top:560.2px;width:94.59999999999991px;height:29.199999999999932px;background:#c00000;"></div>
<span class="t" style="left:1145.80px;top:568.09px;font-size:11px;line-height:14px;color:#fff;">-$100</span>
<div class="a" style="left:1226px;top:560.2px;width:94.59999999999991px;height:29.199999999999932px;background:#c00000;"></div>
<span class="t" style="left:1240.40px;top:568.09px;font-size:11px;line-height:14px;color:#fff;">-$100</span>
<span class="t" style="left:1335.00px;top:568.09px;font-size:11px;line-height:14px;color:#222;">-$300</span>
<span class="t" style="left:72.50px;top:596.70px;font-size:13px;line-height:16px;color:#222;transform:scaleX(1.0378);transform-origin:left center;">Accumulated</span>
<div class="a" style="left:185.4px;top:589.4px;width:94.6px;height:29.200000000000045px;background:#375623;"></div>
<span class="t" style="left:199.80px;top:597.29px;font-size:11px;line-height:14px;color:#fff;">$300</span>
<div class="a" style="left:280px;top:589.4px;width:94.60000000000002px;height:29.200000000000045px;background:#375623;"></div>
<span class="t" style="left:294.40px;top:597.29px;font-size:11px;line-height:14px;color:#fff;">$200</span>
<div class="a" style="left:374.6px;top:589.4px;width:94.59999999999997px;height:29.200000000000045px;background:#375623;"></div>
<span class="t" style="left:389.00px;top:597.29px;font-size:11px;line-height:14px;color:#fff;">$100</span>
<span class="t" style="left:483.60px;top:597.29px;font-size:11px;line-height:14px;color:#222;">$0</span>
<div class="a" style="left:563.8px;top:589.4px;width:94.60000000000002px;height:29.200000000000045px;background:#c00000;"></div>
<span class="t" style="left:578.20px;top:597.29px;font-size:11px;line-height:14px;color:#fff;">-$100</span>
<div class="a" style="left:658.4px;top:589.4px;width:94.60000000000002px;height:29.200000000000045px;background:#375623;"></div>
<span class="t" style="left:672.80px;top:597.29px;font-size:11px;line-height:14px;color:#fff;">$300</span>
<div class="a" style="left:753px;top:589.4px;width:94.60000000000002px;height:29.200000000000045px;background:#375623;"></div>
<span class="t" style="left:767.40px;top:597.29px;font-size:11px;line-height:14px;color:#fff;">$200</span>
<div class="a" style="left:847.6px;top:589.4px;width:94.60000000000002px;height:29.200000000000045px;background:#375623;"></div>
<span class="t" style="left:862.00px;top:597.29px;font-size:11px;line-height:14px;color:#fff;">$100</span>
<span class="t" style="left:956.60px;top:597.29px;font-size:11px;line-height:14px;color:#222;">$0</span>
<div class="a" style="left:1036.8px;top:589.4px;width:94.60000000000014px;height:29.200000000000045px;background:#c00000;"></div>
<span class="t" style="left:1051.20px;top:597.29px;font-size:11px;line-height:14px;color:#fff;">-$100</span>
<div class="a" style="left:1131.4px;top:589.4px;width:94.59999999999991px;height:29.200000000000045px;background:#c00000;"></div>
<span class="t" style="left:1145.80px;top:597.29px;font-size:11px;line-height:14px;color:#fff;">-$200</span>
<div class="a" style="left:1226px;top:589.4px;width:94.59999999999991px;height:29.200000000000045px;background:#c00000;"></div>
<span class="t" style="left:1240.40px;top:597.29px;font-size:11px;line-height:14px;color:#fff;">-$300</span>
<span class="t" style="left:1335.00px;top:597.29px;font-size:11px;line-height:14px;color:#222;">-$300</span>
<div class="a" style="left:57.6px;top:472.7px;width:1358px;height:1px;background:transparent;"></div>
<div class="a" style="left:57.6px;top:501.3px;width:1358px;height:1px;background:#d9d9d9;"></div>
<div class="a" style="left:57.6px;top:530.5px;width:1358px;height:1px;background:#d9d9d9;"></div>
<div class="a" style="left:57.6px;top:559.7px;width:1358px;height:1px;background:#d9d9d9;"></div>
<div class="a" style="left:57.6px;top:588.9px;width:1358px;height:1px;background:#d9d9d9;"></div>
<div class="a" style="left:57.6px;top:618.1px;width:1358px;height:1px;background:#d9d9d9;"></div>
<div class="a" style="left:57.1px;top:473.2px;width:1px;height:145.9px;background:#d9d9d9;"></div>
<div class="a" style="left:184.9px;top:473.2px;width:1px;height:145.9px;background:#d9d9d9;"></div>
<div class="a" style="left:279.5px;top:473.2px;width:1px;height:145.9px;background:#d9d9d9;"></div>
<div class="a" style="left:374.1px;top:473.2px;width:1px;height:145.9px;background:#d9d9d9;"></div>
<div class="a" style="left:468.7px;top:473.2px;width:1px;height:145.9px;background:#d9d9d9;"></div>
<div class="a" style="left:563.3px;top:473.2px;width:1px;height:145.9px;background:#d9d9d9;"></div>
<div class="a" style="left:657.9px;top:473.2px;width:1px;height:145.9px;background:#d9d9d9;"></div>
<div class="a" style="left:752.5px;top:473.2px;width:1px;height:145.9px;background:#d9d9d9;"></div>
<div class="a" style="left:847.1px;top:473.2px;width:1px;height:145.9px;background:#d9d9d9;"></div>
<div class="a" style="left:941.7px;top:473.2px;width:1px;height:145.9px;background:#d9d9d9;"></div>
<div class="a" style="left:1036.3px;top:473.2px;width:1px;height:145.9px;background:#d9d9d9;"></div>
<div class="a" style="left:1130.9px;top:473.2px;width:1px;height:145.9px;background:#d9d9d9;"></div>
<div class="a" style="left:1225.5px;top:473.2px;width:1px;height:145.9px;background:#d9d9d9;"></div>
<div class="a" style="left:1320.1px;top:473.2px;width:1px;height:145.9px;background:#d9d9d9;"></div>
<div class="a" style="left:1414.7px;top:473.2px;width:1px;height:145.9px;background:#d9d9d9;"></div>
<div class="a" style="left:57px;top:639px;width:1362px;height:165px;background:#fff;border:1px solid #d9d9d9;"></div>
<svg class="a" style="left:0px;top:0px;" width="1600" height="877" viewBox="0 0 1600 877"><rect x="66" y="763.8" width="1258" height="0.9" fill="#d9d9d9"/><rect x="80.0" y="720.0" width="38.5" height="44.0" fill="#375623"/><rect x="184.8" y="734.7" width="38.5" height="29.3" fill="#375623"/><rect x="223.3" y="720.0" width="38.5" height="44.0" fill="#c00000"/><rect x="289.7" y="734.7" width="38.5" height="29.3" fill="#375623"/><rect x="328.2" y="720.0" width="38.5" height="44.0" fill="#c00000"/><rect x="394.5" y="734.7" width="38.5" height="29.3" fill="#375623"/><rect x="433.0" y="720.0" width="38.5" height="44.0" fill="#c00000"/><rect x="499.3" y="734.7" width="38.5" height="29.3" fill="#375623"/><rect x="537.8" y="720.0" width="38.5" height="44.0" fill="#c00000"/><rect x="604.2" y="661.3" width="38.5" height="102.7" fill="#375623"/><rect x="642.7" y="720.0" width="38.5" height="44.0" fill="#c00000"/><rect x="709.0" y="734.7" width="38.5" height="29.3" fill="#375623"/><rect x="747.5" y="720.0" width="38.5" height="44.0" fill="#c00000"/><rect x="813.8" y="734.7" width="38.5" height="29.3" fill="#375623"/><rect x="852.3" y="720.0" width="38.5" height="44.0" fill="#c00000"/><rect x="918.7" y="734.7" width="38.5" height="29.3" fill="#375623"/><rect x="957.2" y="720.0" width="38.5" height="44.0" fill="#c00000"/><rect x="1023.5" y="734.7" width="38.5" height="29.3" fill="#375623"/><rect x="1062.0" y="720.0" width="38.5" height="44.0" fill="#c00000"/><rect x="1128.3" y="734.7" width="38.5" height="29.3" fill="#375623"/><rect x="1166.8" y="720.0" width="38.5" height="44.0" fill="#c00000"/><rect x="1233.2" y="734.7" width="38.5" height="29.3" fill="#375623"/><rect x="1271.7" y="720.0" width="38.5" height="44.0" fill="#c00000"/><path d="M118.4,720.0 C135.9,729.8 188.3,768.9 223.2,778.7 C258.2,788.4 293.1,778.7 328.1,778.7 C363.0,778.7 398.0,778.7 432.9,778.7 C467.9,778.7 502.8,790.9 537.8,778.7 C572.7,766.4 607.6,705.3 642.6,705.3 C677.5,705.3 712.5,766.4 747.4,778.7 C782.4,790.9 817.3,778.7 852.2,778.7 C887.2,778.7 922.1,778.7 957.1,778.7 C992.0,778.7 1027.0,778.7 1061.9,778.7 C1096.9,778.7 1131.8,778.7 1166.8,778.7 C1201.7,778.7 1254.1,778.7 1271.6,778.7" fill="none" stroke="#e6ba24" stroke-width="1.6"/><rect x="1331.5" y="666.5" width="24" height="6" fill="#375623"/><rect x="1331.5" y="692" width="24" height="6" fill="#c00000"/><rect x="1331.5" y="720.3" width="24" height="1.6" fill="#e6ba24"/></svg>
<span class="t" style="left:87.57px;top:700.56px;font-size:10.5px;line-height:13px;color:#404040;">$300</span>
<span class="t" style="left:131.91px;top:745.56px;font-size:10.5px;line-height:13px;color:#404040;">$0</span>
<span class="t" style="left:99.74px;top:773.16px;font-size:10.5px;line-height:13px;color:#595959;">January</span>
<span class="t" style="left:192.40px;top:716.13px;font-size:10.5px;line-height:13px;color:#404040;">$200</span>
<span class="t" style="left:230.90px;top:700.56px;font-size:10.5px;line-height:13px;color:#404040;">$300</span>
<span class="t" style="left:202.24px;top:773.16px;font-size:10.5px;line-height:13px;color:#595959;">February</span>
<span class="t" style="left:297.24px;top:716.13px;font-size:10.5px;line-height:13px;color:#404040;">$200</span>
<span class="t" style="left:335.74px;top:700.56px;font-size:10.5px;line-height:13px;color:#404040;">$300</span>
<span class="t" style="left:313.49px;top:773.16px;font-size:10.5px;line-height:13px;color:#595959;">March</span>
<span class="t" style="left:402.07px;top:716.13px;font-size:10.5px;line-height:13px;color:#404040;">$200</span>
<span class="t" style="left:440.57px;top:700.56px;font-size:10.5px;line-height:13px;color:#404040;">$300</span>
<span class="t" style="left:422.41px;top:773.16px;font-size:10.5px;line-height:13px;color:#595959;">April</span>
<span class="t" style="left:506.90px;top:716.13px;font-size:10.5px;line-height:13px;color:#404040;">$200</span>
<span class="t" style="left:545.40px;top:700.56px;font-size:10.5px;line-height:13px;color:#404040;">$300</span>
<span class="t" style="left:527.83px;top:773.16px;font-size:10.5px;line-height:13px;color:#595959;">May</span>
<span class="t" style="left:611.74px;top:641.90px;font-size:10.5px;line-height:13px;color:#404040;">$700</span>
<span class="t" style="left:650.24px;top:700.56px;font-size:10.5px;line-height:13px;color:#404040;">$300</span>
<span class="t" style="left:631.19px;top:773.16px;font-size:10.5px;line-height:13px;color:#595959;">June</span>
<span class="t" style="left:716.57px;top:716.13px;font-size:10.5px;line-height:13px;color:#404040;">$200</span>
<span class="t" style="left:755.07px;top:700.56px;font-size:10.5px;line-height:13px;color:#404040;">$300</span>
<span class="t" style="left:738.07px;top:773.16px;font-size:10.5px;line-height:13px;color:#595959;">July</span>
<span class="t" style="left:821.40px;top:716.13px;font-size:10.5px;line-height:13px;color:#404040;">$200</span>
<span class="t" style="left:859.90px;top:700.56px;font-size:10.5px;line-height:13px;color:#404040;">$300</span>
<span class="t" style="left:835.90px;top:773.16px;font-size:10.5px;line-height:13px;color:#595959;">August</span>
<span class="t" style="left:926.24px;top:716.13px;font-size:10.5px;line-height:13px;color:#404040;">$200</span>
<span class="t" style="left:964.74px;top:700.56px;font-size:10.5px;line-height:13px;color:#404040;">$300</span>
<span class="t" style="left:931.40px;top:773.16px;font-size:10.5px;line-height:13px;color:#595959;">September</span>
<span class="t" style="left:1031.07px;top:716.13px;font-size:10.5px;line-height:13px;color:#404040;">$200</span>
<span class="t" style="left:1069.57px;top:700.56px;font-size:10.5px;line-height:13px;color:#404040;">$300</span>
<span class="t" style="left:1043.24px;top:773.16px;font-size:10.5px;line-height:13px;color:#595959;">October</span>
<span class="t" style="left:1135.90px;top:716.13px;font-size:10.5px;line-height:13px;color:#404040;">$200</span>
<span class="t" style="left:1174.40px;top:700.56px;font-size:10.5px;line-height:13px;color:#404040;">$300</span>
<span class="t" style="left:1142.53px;top:773.16px;font-size:10.5px;line-height:13px;color:#595959;">November</span>
<span class="t" style="left:1240.74px;top:716.13px;font-size:10.5px;line-height:13px;color:#404040;">$200</span>
<span class="t" style="left:1279.24px;top:700.56px;font-size:10.5px;line-height:13px;color:#404040;">$300</span>
<span class="t" style="left:1247.36px;top:773.16px;font-size:10.5px;line-height:13px;color:#595959;">December</span>
<span class="t" style="left:1359.00px;top:663.36px;font-size:10.5px;line-height:13px;color:#595959;">Income</span>
<span class="t" style="left:1359.00px;top:688.86px;font-size:10.5px;line-height:13px;color:#595959;transform:scaleX(0.9214);transform-origin:left center;">Expenses</span>
<span class="t" style="left:1359.00px;top:713.86px;font-size:10.5px;line-height:13px;color:#595959;transform:scaleX(0.9755);transform-origin:left center;">Financial</span>
<span class="t" style="left:1359.00px;top:728.66px;font-size:10.5px;line-height:13px;color:#595959;transform:scaleX(0.9788);transform-origin:left center;">balance</span>
<div class="a" style="left:1577.3px;top:232px;width:22.7px;height:588px;background:#f3f3f3;"></div>
<div class="a" style="left:1584.2px;top:250px;width:8.8px;height:17.6px;background:#777;border-radius:4.4px;"></div>
<div class="a" style="left:0px;top:819px;width:1600px;height:34.4px;background:#f3f3f3;"></div>
<div class="a" style="left:53px;top:830.6px;width:487.5px;height:9.6px;background:#727272;border-radius:4.8px;"></div>
<div class="a" style="left:0px;top:853px;width:1600px;height:0.8px;background:#d2d2d2;"></div>
<div class="a" style="left:0px;top:853.8px;width:1600px;height:23.2px;background:#f3f3f3;"></div>
<span class="t" style="left:13.50px;top:858.19px;font-size:11px;line-height:14px;color:#444;">Pronto</span>
<span class="t" style="left:122.50px;top:858.19px;font-size:11px;line-height:14px;color:#222;font-weight:700;transform:scaleX(0.9910);transform-origin:left center;">Acessibilidade: investigar</span>
<div class="a" style="left:1272px;top:854px;width:42.8px;height:23px;background:#dcdcdc;"></div>
<span class="t" style="left:1556.90px;top:858.39px;font-size:11px;line-height:14px;color:#444;transform:scaleX(0.8942);transform-origin:left center;">90%</span>
<svg class="a" style="left:0px;top:0px;" width="1600" height="877" viewBox="0 0 1600 877"><polygon points="1583.8,244.6 1592.8,244.6 1588.3,238.2" fill="#727272"/><polygon points="1583.8,808.5 1592.8,808.5 1588.3,815" fill="#727272"/><polygon points="1564.4,830.7 1564.4,839.7 1570.6,835.2" fill="#727272"/><polygon points="47.4,830.8 47.4,839.8 40.6,835.3" fill="#727272"/><rect x="16.8" y="831" width="2.4" height="2.4" fill="#444"/><rect x="16.8" y="835.3" width="2.4" height="2.4" fill="#444"/><rect x="16.8" y="839.6" width="2.4" height="2.4" fill="#444"/><path d="M1286.6,858.2 H1300 V871 H1286.6 Z M1291,858.2 V871 M1295.6,858.2 V871 M1286.6,862.4 H1300 M1286.6,866.8 H1300" fill="none" stroke="#444" stroke-width="1.5"/><rect x="1329.6" y="858.4" width="14.2" height="12.6" rx="1" fill="none" stroke="#444" stroke-width="1.3"/><path d="M1332.6,861 H1340.8 V868.4 H1332.6 Z M1334.4,863.2 H1339 M1334.4,864.9 H1339 M1334.4,866.6 H1339" fill="none" stroke="#444" stroke-width="0.9"/><rect x="1372.6" y="858.4" width="14.4" height="12.6" rx="1" fill="none" stroke="#444" stroke-width="1.3"/><path d="M1372.6,865.4 H1381.6 V858.4 M1377,858.4 V865.4" fill="none" stroke="#444" stroke-width="1.2"/><path d="M1407.8,865 H1415.4 M1421.5,865 H1528.2 M1533.6,865 H1541.8 M1537.7,860.9 V869.1 M1474.6,862.6 V867.4" fill="none" stroke="#444" stroke-width="1"/><rect x="1467.2" y="859" width="4.8" height="12" fill="#555"/><path d="M69.6,859.6 H84 V861.6 M69.6,859.6 V872 H74.4 M69.6,861.8 H84 M71.6,864.6 H74.6 M71.6,867 H73.8 M71.6,869.4 H73.8" fill="none" stroke="#444" stroke-width="1.1"/><circle cx="79.6" cy="868" r="4.4" fill="#f3f3f3" stroke="#444" stroke-width="1.1"/><circle cx="79.6" cy="868" r="2" fill="#444"/><circle cx="110" cy="859.4" r="1.6" fill="none" stroke="#444" stroke-width="1"/><path d="M104,861 L108.2,863 V866 L106,871.6 L107.6,872.4 L110,867.8 L111,869.6 M116,861 L111.8,863 V865.4 M104,861 L104.6,859.7 L108.6,861.5 H111.4 L115.4,859.7 L116,861 M112,867.6 L118.2,873.4 M118.2,867.6 L112,873.4" fill="none" stroke="#444" stroke-width="1"/></svg>
<div class="a" style="left:0px;top:52px;width:1px;height:825px;background:#7a7a7a;"></div>
<div class="a" style="left:1597.4px;top:52px;width:1.6px;height:824px;background:#fafafa;"></div>
<div class="a" style="left:1599px;top:0px;width:1px;height:52px;background:#2c6a48;"></div>
<div class="a" style="left:1599px;top:52px;width:1px;height:825px;background:#8f8f8f;"></div>
<div class="a" style="left:0px;top:51.8px;width:1599px;height:1px;background:#eef5f1;"></div>
<div class="a" style="left:0px;top:876px;width:1600px;height:1px;background:#6a6a6a;"></div>
<svg class="a" style="left:0px;top:0px;" width="1600" height="877" viewBox="0 0 1600 877"><path d="M23.5,18.6 H32.6 Q33.7,18.6 33.7,19.7 V33.1 Q33.7,34.2 32.6,34.2 H23.5 M27.5,18.6 V34.2 M27.5,23.8 H33.7 M27.5,29 H33.7 M21.5,18.8 Q21,18.6 23.5,18.6" fill="none" stroke="#62b088" stroke-width="1.1" /><rect x="18" y="22.4" width="9.5" height="10.6" rx="1.2" fill="#62b088" fill-opacity="0.75"/><path d="M20.6,25 L24.9,30.6 M24.9,25 L20.6,30.6" fill="none" stroke="#107c41" stroke-width="1.2" /><path d="M238.6,18.8 H253.5 L255.6,20.9 V34.1 H240.6 L238.6,32.1 Z M243.8,18.8 V25.4 H252.4 V18.8 M243.4,34.1 V28.8 H252.6 V34.1" fill="none" stroke="#62b088" stroke-width="1.1" /><path d="M269.5,18 V24.6 H276 M270.3,23.8 C273,19.6 277.5,17.6 281,18.8 C285,20.2 286,24.8 283.2,27.6 L275.6,34.6" fill="none" stroke="#62b088" stroke-width="1.2" /><path d="M292.6,24.4 L295.3,27.4 L298,24.4" fill="none" stroke="#62b088" stroke-width="1.2" /><path d="M325.7,18 V24.6 H319.2 M324.9,23.8 C322.2,19.6 317.7,17.6 314.2,18.8 C310.2,20.2 309.2,24.8 312,27.6 L319.6,34.6" fill="none" stroke="#62b088" stroke-width="1.2" /><path d="M334.2,24.4 L336.9,27.4 L339.6,24.4" fill="none" stroke="#62b088" stroke-width="1.2" /><path d="M355.2,24 H363 M355.6,26.8 L359.1,30.2 L362.6,26.8" fill="none" stroke="#62b088" stroke-width="1.2" /><path d="M762,24.4 L766.7,29 L771.4,24.4" fill="none" stroke="#62b088" stroke-width="1.2" /><path d="M816.9,27.2 L810.6,33.7" fill="none" stroke="#7fb899" stroke-width="1.3" /><circle cx="820" cy="23.8" r="4.6" fill="none" stroke="#7fb899" stroke-width="1.3"/><path d="M1464,25.7 H1475.6" fill="none" stroke="#4fa376" stroke-width="1.2" /><rect x="1516.5" y="21" width="10.6" height="10.6" rx="1.6" fill="none" stroke="#4fa376" stroke-width="1.2"/><path d="M1568.4,21 L1579,31.6 M1579,21 L1568.4,31.6" fill="none" stroke="#4fa376" stroke-width="1.2" /><path d="M1306.1,63.4 H1316.6 V70.6 H1311 L1308.3,73.2 V70.6 H1306.1 Z" fill="none" stroke="#333" stroke-width="1.1" /><path d="M1431.5,66.5 H1428 V75 H1438.5 V71.5 M1431,71.8 C1431,68 1433,65.6 1436,65.4 V63 L1440,66.8 L1436,70.5 V68.2 C1433.8,68.2 1432,69.4 1431,71.8 Z" fill="none" stroke="#fff" stroke-width="1.1" /><path d="M1575.6,67.8 L1578.6,70.8 L1581.6,67.8" fill="none" stroke="#fff" stroke-width="1.2" /><path d="M43.7,116.8 L50,122.8 L62.4,111.2" fill="none" stroke="#3e9c5c" stroke-width="1.3" /><path d="M113.9,95.6 H116.5 C122,95.6 127,96.2 129.3,98 C131.6,96.2 136.6,95.6 142,95.6 H144.7 V119 H142 C136.6,119 131.6,119.6 129.3,121.6 C127,119.6 122,119 116.5,119 H113.9 Z" fill="#f3f3f3" stroke="#4a4a4a" stroke-width="1.2" /><path d="M129.3,98 V121.4" fill="none" stroke="#4a4a4a" stroke-width="1.2" /><path d="M118.2,103.2 H125 M118.2,107.5 H125" fill="none" stroke="#c8505a" stroke-width="1.1" /><path d="M118.2,111.8 H125 M133.6,103.2 H140.6 M133.6,107.5 H140.6 M133.6,111.8 H140.6" fill="none" stroke="#777" stroke-width="1.1" /><rect x="210.4" y="94.4" width="29.6" height="4.2" fill="#9a9a9a"/><path d="M210.4,94.4 H240 V112.5 M210.4,94.4 V123.3 H219.5 M220.3,98.6 V114 M230.6,98.6 V112.5 M210.4,106.2 H240 M210.4,113.8 H220.3" fill="none" stroke="#4a4a4a" stroke-width="1.2" /><path d="M321.2,95.3 H351.5 V117.5 H332.2 L329.7,121.5 H321.2 Z" fill="#f3f3f3" stroke="#4a4a4a" stroke-width="1.05"/><path d="M331.3,95.3 V117.5 M341.5,95.3 V117.5 M321.2,103.2 H351.5 M321.2,110.2 H351.5 " fill="none" stroke="#4a4a4a" stroke-width="1.05"/><circle cx="346.2" cy="118.8" r="8.8" fill="#fff"/><rect x="342" y="107.5" width="9" height="5" fill="#fff"/><circle cx="346.2" cy="118.8" r="7.2" fill="#fff" stroke="#2b88c8" stroke-width="1.3"/><path d="M343.8,109.6 H348.6 M346.2,109.6 V111.6 M351.2,112.6 L352.6,111.2 M346.2,114.6 V119.4 H349.6" fill="none" stroke="#2b88c8" stroke-width="1.3" /><path d="M432.6,94.7 H445.6 L454,103.1 V123.4 H432.6 Z" fill="#fff" stroke="#4a4a4a" stroke-width="1.2" /><path d="M445.6,94.7 V103.1 H454" fill="none" stroke="#4a4a4a" stroke-width="1.2" /><rect x="444.5" y="108" width="12" height="18" fill="#fff"/><path d="M446.3,112.3 L451.4,114.6 V118.2 L449.2,125 L451.3,125.9 L453.5,120.6 L455.7,125.9 L457.8,125 L455.6,118.2 V114.6 L460.7,112.3 L460,110.6 L455.2,112.5 H451.8 L447,110.6 Z" fill="#c9e7f8" stroke="#2b88c8" stroke-width="1.1" stroke-linejoin="round"/><circle cx="453.5" cy="111.2" r="1.9" fill="#c9e7f8" stroke="#2b88c8" stroke-width="1.1"/><polygon points="520.5,98 524.6,99.4 526.6,101.8 532.8,99.9 529.2,103.8 531.2,107.3 520.5,107.4" fill="#1e88ce"/><polygon points="550.4,123.4 546.3,122 544.3,119.6 538.1,121.5 541.7,117.6 539.7,114.1 550.4,114" fill="#2f9e4a"/><path d="M595.5,95.3 H625.5 V117.5 H606.5 L604.0,121.5 H595.5 Z" fill="#f1f1f1" stroke="#b9b9b9" stroke-width="1.05"/><path d="M605.5,95.3 V117.5 M615.5,95.3 V117.5 M595.5,103.2 H625.5 M595.5,110.2 H625.5 " fill="none" stroke="#b9b9b9" stroke-width="1.05"/><circle cx="619.6" cy="118.2" r="8.8" fill="#fff"/><circle cx="619.6" cy="118.2" r="7.2" fill="#fff" stroke="#b9b9b9" stroke-width="1.2"/><rect x="609" y="112" width="6" height="6" fill="#fff"/><path d="M611,112.8 V116.4 H614.6 M619.6,113.8 V118.2 L622.4,121" fill="none" stroke="#b9b9b9" stroke-width="1.2" /><path d="M681,95.3 H710.5 V114.8 H691 L684.5,121.5 V114.8 H681 Z" fill="#f3f3f3" stroke="none"/><path d="M689,95.3 H710.5 V114.8 H691 L684.5,121.5 V114.8 H681 V102.8" fill="none" stroke="#4a4a4a" stroke-width="1.2" /><path d="M679,100 H694.6 M687,92.2 V107.6" fill="none" stroke="#3fa060" stroke-width="1.7" /><path d="M741,95.3 H770.5 V114.8 H751 L744.5,121.5 V114.8 H741 Z" fill="#f0f0f0" stroke="none"/><path d="M752,95.3 H770.5 V114.8 H751 L744.5,121.5 V114.8 H741 V102.8" fill="none" stroke="#b9b9b9" stroke-width="1.2" /><path d="M739.6,92 L752.6,105 M752.6,92 L739.6,105" fill="none" stroke="#b9b9b9" stroke-width="1.2" /><path d="M801.5,95.3 H831.0 V114.8 H811.5 L805.0,121.5 V114.8 H801.5 Z" fill="#f0f0f0" stroke="none"/><path d="M810.5,95.3 H831.0 V114.8 H811.5 L805.0,121.5 V114.8 H801.5 V102.8" fill="none" stroke="#b9b9b9" stroke-width="1.2" /><path d="M799.6,98.5 H816 M806.4,92.4 L799.6,98.5 L806.4,104.6" fill="none" stroke="#b9b9b9" stroke-width="1.2" /><path d="M875.5,95.3 H905.0 V114.8 H885.5 L879.0,121.5 V114.8 H875.5 Z" fill="#f0f0f0" stroke="none"/><path d="M890.0,95.3 H905.0 V114.8 H885.5 L879.0,121.5 V114.8 H875.5 V102.8" fill="none" stroke="#b9b9b9" stroke-width="1.2" /><path d="M873.5,98.5 H889.6 M883,92.4 L889.8,98.5 L883,104.6" fill="none" stroke="#b9b9b9" stroke-width="1.2" /><path d="M952,95.3 H981.5 V114.8 H962 L955.5,121.5 V114.8 H952 Z" fill="#f3f3f3" stroke="none"/><path d="M952,95.3 H981.5 V114.8 H962 L955.5,121.5 V114.8 H952 Z" fill="none" stroke="#333" stroke-width="1.3" /><path d="M1041.8,95.4 H1069.4 V111.6 L1058.4,122.4 H1041.8 Z" fill="#f3f3f3" stroke="#4a4a4a" stroke-width="1.3" /><path d="M1069.4,111.2 H1057.4 V122.4" fill="none" stroke="#4a4a4a" stroke-width="1.3" /><path d="M1117,95.4 H1147 V117.5 H1128 L1125.5,121.5 H1117 Z" fill="#f3f3f3" stroke="#4a4a4a" stroke-width="1.05"/><path d="M1127,95.4 V117.5 M1137,95.4 V117.5 M1117,103.2 H1147 M1117,110.2 H1147 " fill="none" stroke="#4a4a4a" stroke-width="1.05"/><rect x="1134.4" y="107.5" width="15.2" height="19" fill="#fff"/><path d="M1138.4,116 V112 A3.6,3.9 0 0 1 1145.6000000000001,112 V116" fill="#fbe9c8" stroke="#e09a2b" stroke-width="1.6" /><rect x="1135.4" y="116" width="13.2" height="9.6" fill="#f6c468" stroke="#e09a2b" stroke-width="1.1"/><path d="M1189.6,119 V94.2 H1217" fill="none" stroke="#4a4a4a" stroke-width="1.2" /><path d="M1193,98 H1219.5 V118 H1204 L1201.5,122 H1193 Z" fill="#f3f3f3" stroke="#4a4a4a" stroke-width="1.05"/><path d="M1202,98 V118 M1210.6,98 V118 M1193,104 H1219.5 M1193,110 H1219.5 M1193,116 H1219.5 " fill="none" stroke="#4a4a4a" stroke-width="1.05"/><rect x="1206.6" y="107.5" width="15.2" height="19" fill="#fff"/><path d="M1210.6,116 V112 A3.6,3.9 0 0 1 1217.8,112 V116" fill="#fbe9c8" stroke="#e09a2b" stroke-width="1.6" /><rect x="1207.6" y="116" width="13.2" height="9.6" fill="#f6c468" stroke="#e09a2b" stroke-width="1.1"/><path d="M1286,97.8 H1315.4 V104 M1286,97.8 V120.4 H1296 M1295.8,97.8 V120.4 M1305.4,97.8 V108 M1286,104.8 H1311 M1286,112.4 H1303" fill="none" stroke="#4a4a4a" stroke-width="1.2" /><path d="M1296,125 L1297.6,119.4 L1313.6,103.4 A2.3,2.3 0 0 1 1317.6,107.4 L1301.6,123.4 Z" fill="#d3e9f8" stroke="#2b88c8" stroke-width="1.2" stroke-linejoin="round"/><path d="M1296,125 L1297.2,121 L1300,123.8 Z" fill="#2b88c8" stroke="#2b88c8" stroke-width="1" /><path d="M1311.6,105.4 L1315.6,109.4" fill="none" stroke="#2b88c8" stroke-width="1.1" /><path d="M1390.6,119.8 V94.6 H1418.2" fill="none" stroke="#b9b9b9" stroke-width="1.2" /><path d="M1394.3,97.8 H1420.3 V118 H1405.3 L1402.8,122 H1394.3 Z" fill="#f1f1f1" stroke="#b9b9b9" stroke-width="1.05"/><path d="M1403,97.8 V118 M1411.6,97.8 V118 M1394.3,104 H1420.3 M1394.3,110 H1420.3 M1394.3,116 H1420.3 " fill="none" stroke="#b9b9b9" stroke-width="1.05"/><rect x="1406.5" y="108.5" width="17" height="18" fill="#fff"/><circle cx="1414.6" cy="113.2" r="3.7" fill="#efefef" stroke="#b9b9b9" stroke-width="1.2"/><path d="M1407.6,126.2 A7,7.2 0 0 1 1421.6,126.2 Z" fill="#efefef" stroke="#b9b9b9" stroke-width="1.2" /><path d="M1484.2,94.6 H1510.2 L1484.2,118.8 Z" fill="#f3f3f3" stroke="#333" stroke-width="1.3" stroke-linejoin="round"/><path d="M1499.6,105.8 C1502.5,104.4 1503.6,105.8 1502.6,107.8 C1501.6,110.4 1504,110 1507,108.8 C1510,107.6 1511.6,107 1513.8,106.2" fill="none" stroke="#d13438" stroke-width="1.3" /><path d="M1484.6,123 C1490,120.6 1496,118.6 1499,118.4 C1502,118.2 1500,121.8 1502.6,121.6 C1505.6,121.2 1510,118.8 1513.8,117.4" fill="none" stroke="#d13438" stroke-width="1.3" /><path d="M483.2,154 L486,156.8 L488.8,154" fill="none" stroke="#333" stroke-width="1.2" /><path d="M1052.4,152.6 L1055.2,155.4 L1058,152.6" fill="none" stroke="#333" stroke-width="1.2" /><path d="M1511.4,154 L1514.2,156.8 L1517,154" fill="none" stroke="#333" stroke-width="1.2" /><path d="M1569.6,173.6 L1574.6,178.6 L1579.6,173.6" fill="none" stroke="#333" stroke-width="1.3" /></svg>
<span class="t" style="left:40.70px;top:91.50px;font-size:15px;line-height:19px;color:#444;transform:scaleX(1.0336);transform-origin:left center;">abc</span>
<span class="t" style="left:221.60px;top:110.32px;font-size:13.5px;line-height:17px;color:#3a96c4;transform:scaleX(0.8433);transform-origin:left center;">123</span>
<span class="t" style="left:534.25px;top:91.74px;font-size:17.5px;line-height:22px;color:#2f9e4a;font-family:'Liberation Sans','Noto Sans CJK JP',sans-serif;font-weight:500;">あ</span>
<span class="t" style="left:520.20px;top:101.55px;font-size:21.5px;line-height:27px;color:#1e88ce;transform:scaleX(0.9525);transform-origin:left center;">a</span>
</body></html>
